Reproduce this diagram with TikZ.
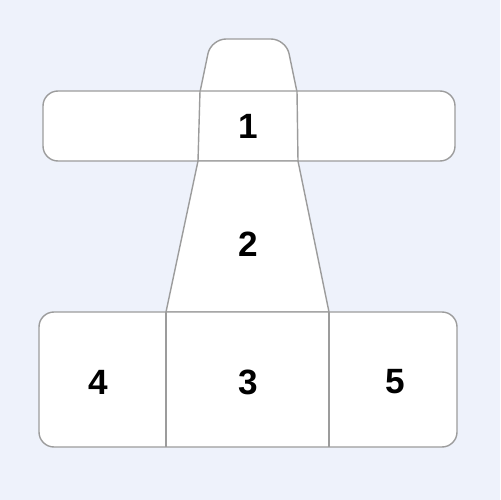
\documentclass[tikz,border=0pt]{standalone}
\usepackage{fontspec}
\setmainfont{Liberation Sans}
\usepackage{tikz}
\definecolor{pagebg}{HTML}{EEF2FB}
\definecolor{edgegray}{HTML}{9C9C9C}

\begin{document}
\begin{tikzpicture}[x=0.02cm, y=-0.02cm,
                    part/.style={draw=edgegray, line width=0.8pt, fill=white},
                    seam/.style={draw=edgegray, line width=0.8pt},
                    numnode/.style={font=\fontsize{20}{24}\selectfont\bfseries, text=black},]
    \fill[pagebg] (0,0) rectangle (500,500);
    \useasboundingbox (0,0) rectangle (500,500);
    % top cap
    \path[part, rounded corners=0.3cm] (200,92) -- (211,39) -- (286,39) -- (297,92);
    % cross bar
    \path[part, rounded corners=0.3cm] (43,91) rectangle (455,161);
    \draw[seam] (200,91) -- (198,161);
    \draw[seam] (297,91) -- (298,161);
    % tapered middle
    \path[part] (198,161) -- (298,161) -- (329,312) -- (166,312) -- cycle;
    % bottom row
    \path[part, rounded corners=0.3cm] (39,312) rectangle (457,447);
    \draw[seam] (166,312) -- (166,447);
    \draw[seam] (329,312) -- (329,447);
    \node[numnode] (1) at (248,126) {1};
    \node[numnode] (2) at (248,244) {2};
    \node[numnode] (3) at (248,382) {3};
    \node[numnode] (4) at (98,382) {4};
    \node[numnode] (5) at (395,382) {5};
\end{tikzpicture}
\end{document}
